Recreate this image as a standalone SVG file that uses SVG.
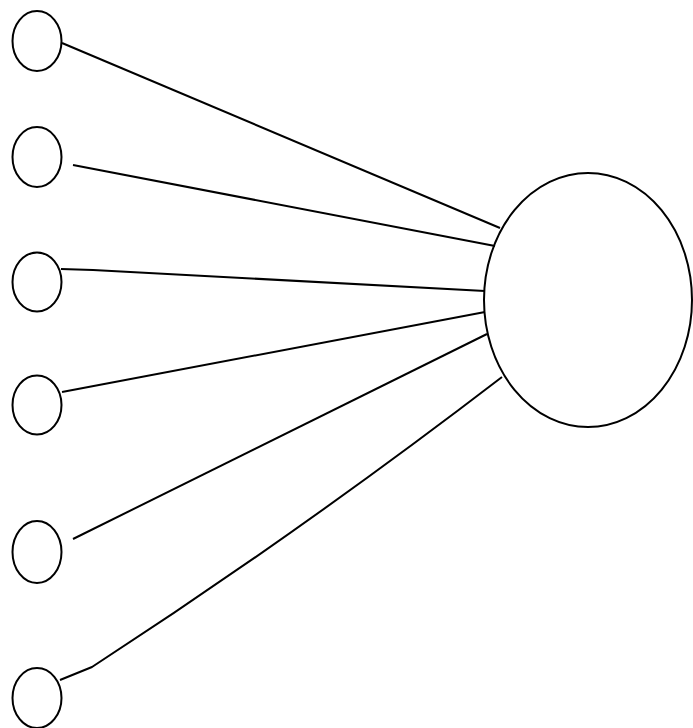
<svg xmlns="http://www.w3.org/2000/svg" width="693" height="728" viewBox="0 0 693 728">
<style>
.n{fill:none;stroke:#000;stroke-width:2}
.c{fill:none;stroke:#000;stroke-width:2;stroke-linejoin:round}
</style>
<rect width="693" height="728" fill="#fff"/>
<g id="connectors">
<polyline class="c" points="62,43 500,228"/>
<polyline class="c" points="73,165 495,246"/>
<polyline class="c" points="61,269 93,270 485,291"/>
<polyline class="c" points="62,392 485,312"/>
<polyline class="c" points="73,539 487,334"/>
<path class="c" d="M60,680 L92,667 Q300,532 502,377"/>
</g>
<g id="n1"><ellipse class="n" cx="37" cy="41" rx="24.5" ry="30"/></g>
<g id="n2"><ellipse class="n" cx="37" cy="157" rx="24.5" ry="30"/></g>
<g id="n3"><ellipse class="n" cx="37" cy="282" rx="24.5" ry="29.5"/></g>
<g id="n4"><ellipse class="n" cx="37" cy="405" rx="24.5" ry="29.5"/></g>
<g id="n5"><ellipse class="n" cx="37" cy="552" rx="24.5" ry="31"/></g>
<g id="n6"><ellipse class="n" cx="37" cy="698" rx="24.5" ry="30"/></g>
<g id="hub"><ellipse class="n" cx="588" cy="300" rx="104" ry="127"/></g>
</svg>
